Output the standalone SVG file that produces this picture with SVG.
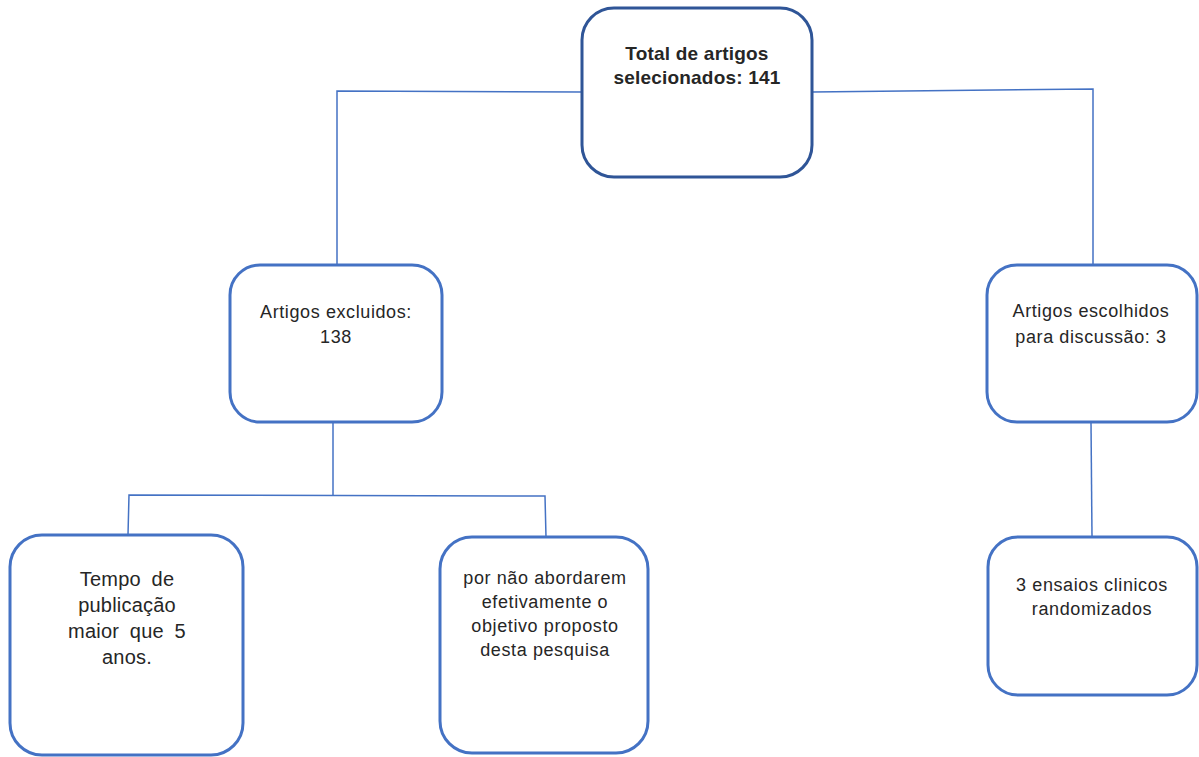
<svg xmlns="http://www.w3.org/2000/svg" width="1199" height="757" viewBox="0 0 1199 757">
<style>
.box{fill:#ffffff;stroke:#4472c4;stroke-width:3}
.top{fill:#ffffff;stroke:#2f5597;stroke-width:3}
.c{fill:none;stroke:#4472c4;stroke-width:1.5}
text{font-family:"Liberation Sans",Arial,sans-serif;fill:#262626;text-anchor:middle;font-size:18px;letter-spacing:0.6px}
.b{font-weight:bold;font-size:19px;letter-spacing:0.2px}
.t{font-size:20px;letter-spacing:0.2px;word-spacing:5px}
</style>
<rect x="0" y="0" width="1199" height="757" fill="#ffffff"/>
<g id="connectors">
<polyline class="c" points="582,92 337,91 337,265"/>
<polyline class="c" points="812,92 1093,89 1093,265"/>
<polyline class="c" points="333,422 333,496"/>
<polyline class="c" points="128,535 129,495 545,496 546,537"/>
<polyline class="c" points="1091,422 1092,537"/>
</g>
<g id="n1">
<rect class="top" x="582" y="8" width="230" height="169" rx="32"/>
<text class="b" x="697" y="60">Total de artigos</text>
<text class="b" x="697" y="84">selecionados: 141</text>
</g>
<g id="n2">
<rect class="box" x="230" y="265" width="212" height="157" rx="30"/>
<text x="336" y="318">Artigos excluidos:</text>
<text x="336" y="343">138</text>
</g>
<g id="n3">
<rect class="box" x="987" y="265" width="210" height="157" rx="30"/>
<text x="1091" y="317">Artigos escolhidos</text>
<text x="1091" y="343">para discussão: 3</text>
</g>
<g id="n4">
<rect class="box" x="10" y="535" width="233" height="220" rx="32"/>
<text class="t" x="127" y="586">Tempo de</text>
<text class="t" x="127" y="612">publicação</text>
<text class="t" x="127" y="638">maior que 5</text>
<text class="t" x="127" y="664">anos.</text>
</g>
<g id="n5">
<rect class="box" x="440" y="537" width="208" height="216" rx="32"/>
<text x="545" y="584">por não abordarem</text>
<text x="545" y="608">efetivamente o</text>
<text x="545" y="632">objetivo proposto</text>
<text x="545" y="656">desta pesquisa</text>
</g>
<g id="n6">
<rect class="box" x="988" y="537" width="209" height="158" rx="30"/>
<text x="1092" y="591">3 ensaios clinicos</text>
<text x="1092" y="615">randomizados</text>
</g>
</svg>
